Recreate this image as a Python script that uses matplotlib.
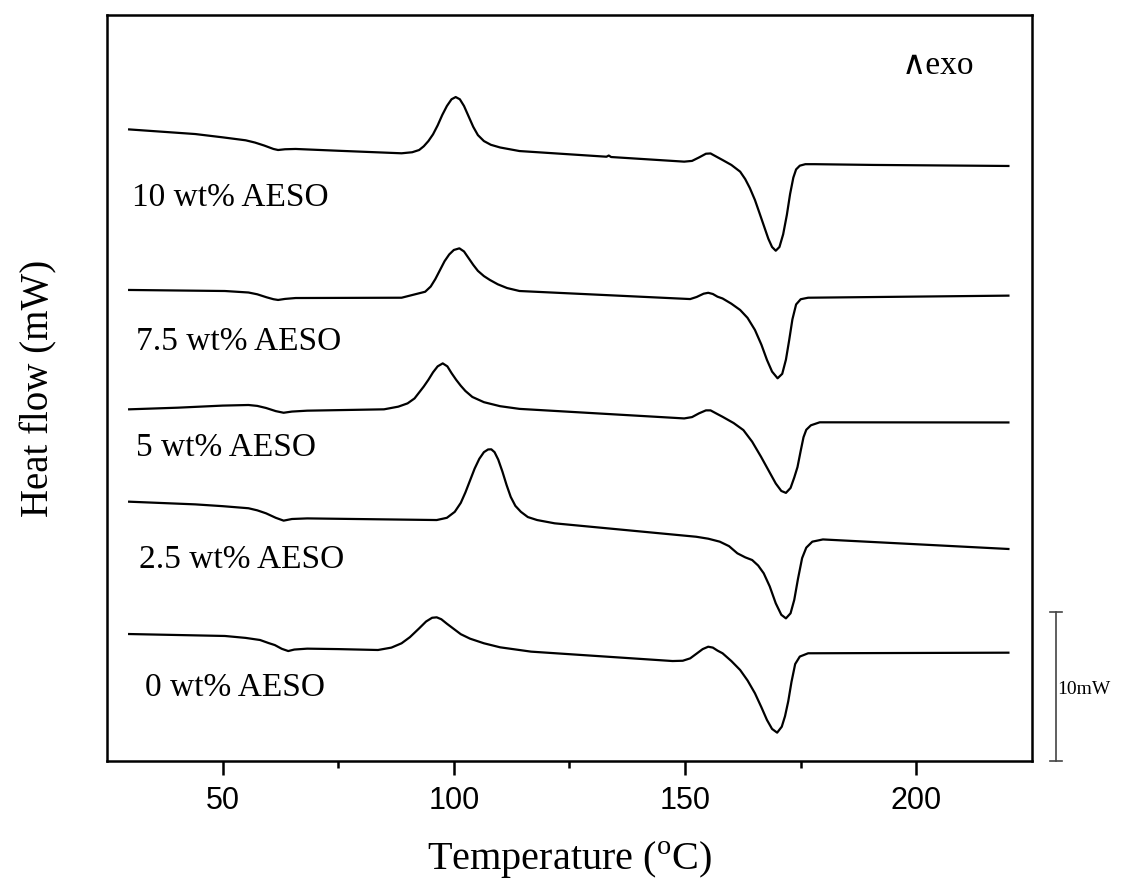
import matplotlib
matplotlib.use("Agg")
import matplotlib.pyplot as plt

# ---- data (Temperature in °C, heat flow in mW, curves offset vertically) ----
t_10 = [29.8, 44.1, 50.0, 55.0, 57.0, 59.0, 61.0, 62.0, 63.5, 65.8, 75.0, 88.7, 91.0, 92.5,
        93.5, 94.5, 95.5, 96.5, 97.5, 98.5, 99.5, 100.4, 101.3, 102.2, 103.2, 104.2, 105.2,
        106.5, 108.0, 110.0, 114.2, 133.0, 133.5, 134.0, 149.8, 151.5, 153.0, 154.5, 155.5,
        156.5, 158.1, 160.0, 161.9, 163.0, 164.0, 165.1, 166.0, 167.0, 168.0, 168.8, 169.6,
        170.4, 171.2, 172.0, 172.7, 173.4, 174.0, 174.8, 176.0, 178.0, 190.6, 219.9]
h_10 = [42.33, 42.02, 41.80, 41.60, 41.45, 41.25, 41.02, 40.95, 41.00, 41.02, 40.90, 40.73, 40.80, 40.95,
        41.20, 41.55, 42.00, 42.60, 43.30, 43.90, 44.35, 44.50, 44.35, 43.90, 43.20, 42.50, 41.95,
        41.55, 41.30, 41.12, 40.88, 40.50, 40.58, 40.48, 40.17, 40.22, 40.45, 40.70, 40.72,
        40.55, 40.28, 39.95, 39.50, 39.00, 38.40, 37.60, 36.80, 35.90, 35.00, 34.45, 34.20,
        34.45, 35.30, 36.60, 38.00, 39.10, 39.65, 39.90, 40.00, 40.00, 39.95, 39.88]

t_75 = [29.8, 50.5, 55.6, 57.5, 59.5, 61.0, 62.0, 63.5, 65.8, 88.7, 93.8, 95.0, 96.0, 97.0,
        98.0, 99.0, 100.0, 101.2, 102.2, 103.2, 104.2, 105.2, 106.5, 107.8, 109.5, 111.5,
        114.2, 151.1, 152.5, 154.0, 155.0, 156.0, 157.0, 158.1, 160.0, 161.9, 163.5, 165.1,
        166.5, 167.7, 168.8, 170.0, 171.0, 171.8, 172.5, 173.2, 174.0, 175.0, 176.6, 219.9]
h_75 = [31.57, 31.50, 31.40, 31.28, 31.08, 30.95, 30.90, 30.97, 31.03, 31.05, 31.45, 31.80, 32.30, 32.90,
        33.50, 33.95, 34.25, 34.36, 34.15, 33.70, 33.25, 32.85, 32.50, 32.24, 31.95, 31.70,
        31.50, 30.96, 31.10, 31.32, 31.38, 31.30, 31.12, 31.00, 30.65, 30.23, 29.70, 28.89,
        27.90, 26.88, 26.10, 25.65, 25.95, 26.90, 28.20, 29.60, 30.60, 30.95, 31.05, 31.19]

t_5 = [29.8, 40.3, 50.0, 55.6, 57.5, 59.4, 61.5, 63.2, 65.0, 68.3, 84.9, 88.0, 90.0, 91.5,
       92.5, 93.5, 94.5, 95.5, 96.5, 97.6, 98.6, 99.5, 100.5, 101.5, 102.5, 104.0, 106.5,
       110.0, 114.2, 149.8, 151.5, 153.0, 154.5, 155.5, 157.0, 158.1, 160.5, 162.6, 164.5,
       166.4, 168.0, 169.6, 170.8, 171.8, 172.8, 173.6, 174.3, 175.0, 175.6, 176.2, 177.2,
       179.1, 219.9]
h_5 = [23.57, 23.68, 23.82, 23.86, 23.80, 23.66, 23.45, 23.34, 23.42, 23.48, 23.57, 23.75, 23.97, 24.30,
       24.70, 25.10, 25.55, 26.05, 26.45, 26.65, 26.45, 26.00, 25.55, 25.15, 24.80, 24.40, 24.05,
       23.78, 23.60, 22.96, 23.05, 23.30, 23.50, 23.50, 23.25, 23.07, 22.65, 22.18, 21.40,
       20.40, 19.50, 18.60, 18.10, 17.97, 18.30, 19.00, 19.70, 20.80, 21.70, 22.20, 22.50,
       22.70, 22.69]

t_25 = [29.8, 44.1, 50.0, 55.6, 57.5, 59.4, 61.5, 63.2, 65.0, 68.3, 96.3, 98.5, 100.2, 101.5,
        102.5, 103.5, 104.5, 105.5, 106.5, 107.4, 108.1, 108.8, 109.6, 110.5, 111.4, 112.3,
        113.3, 114.5, 116.0, 118.0, 121.8, 152.4, 155.0, 157.5, 159.5, 161.3, 163.0, 164.5,
        165.8, 167.0, 168.3, 169.6, 170.8, 171.8, 172.8, 173.6, 174.4, 175.3, 176.2, 177.5,
        179.8, 219.9]
h_25 = [17.38, 17.20, 17.08, 16.94, 16.80, 16.60, 16.30, 16.11, 16.22, 16.26, 16.15, 16.30, 16.70, 17.30,
        18.00, 18.80, 19.60, 20.25, 20.70, 20.88, 20.89, 20.70, 20.20, 19.40, 18.50, 17.70,
        17.10, 16.70, 16.35, 16.15, 15.93, 15.03, 14.90, 14.70, 14.40, 13.92, 13.65, 13.47,
        13.10, 12.58, 11.70, 10.57, 9.80, 9.56, 9.90, 10.80, 12.20, 13.60, 14.30, 14.70,
        14.85, 14.21]

t_0 = [29.8, 50.5, 55.0, 58.1, 60.0, 61.3, 62.8, 64.2, 65.5, 68.3, 75.0, 83.6, 86.5, 88.7,
       90.5, 92.5, 94.0, 95.3, 96.3, 97.3, 98.5, 100.0, 101.5, 103.5, 106.5, 110.0, 116.7,
       147.3, 149.5, 151.1, 152.5, 153.8, 155.0, 156.0, 157.0, 158.1, 160.0, 161.9, 163.5,
       165.1, 166.5, 167.7, 168.8, 169.9, 170.9, 171.6, 172.3, 173.0, 173.8, 174.8, 176.6,
       219.9]
h_0 = [8.51, 8.38, 8.25, 8.11, 7.90, 7.77, 7.52, 7.37, 7.47, 7.53, 7.50, 7.44, 7.60, 7.89,
       8.30, 8.89, 9.35, 9.60, 9.63, 9.50, 9.20, 8.85, 8.50, 8.20, 7.89, 7.62, 7.33,
       6.70, 6.72, 6.88, 7.20, 7.50, 7.66, 7.60, 7.40, 7.22, 6.70, 6.10, 5.40,
       4.54, 3.60, 2.75, 2.15, 1.90, 2.30, 3.00, 4.00, 5.30, 6.50, 7.00, 7.22,
       7.26]

series_labels = ["10 wt% AESO", "7.5 wt% AESO", "5 wt% AESO", "2.5 wt% AESO", "0 wt% AESO"]
x_ticks = [50, 100, 150, 200]
x_minor = [75, 125, 175]

plt.rcParams['mathtext.fontset'] = 'custom'
plt.rcParams['mathtext.rm'] = 'Liberation Serif'
SERIF = ['Liberation Serif', 'DejaVu Serif']

fig = plt.figure(figsize=(11.21, 8.81), dpi=100)
ax = fig.add_axes([0.0954, 0.1362, 0.9206 - 0.0954, 0.983 - 0.1362])

curves = [(t_10, h_10), (t_75, h_75), (t_5, h_5), (t_25, h_25), (t_0, h_0)]
for t, h in curves:
    ax.plot(t, h, color='black', lw=1.6, solid_joinstyle='round', antialiased=True)

ax.set_xlim(25, 225)
ax.set_ylim(0, 50)
ax.set_xticks(x_ticks)
ax.set_xticks(x_minor, minor=True)
ax.set_yticks([])
ax.tick_params(axis='x', which='major', direction='out', length=10, width=1.8, pad=8,
               labelsize=22)
ax.tick_params(axis='x', which='minor', direction='out', length=5, width=1.8)
for lab in ax.get_xticklabels():
    lab.set_family('Liberation Sans')
for sp in ax.spines.values():
    sp.set_linewidth(1.8)

ax.set_xlabel('Temperature ($^{\\rm o}$C)', family=SERIF, fontsize=29, labelpad=16)
ax.set_ylabel('Heat flow (mW)', family=SERIF, fontsize=28, labelpad=36)

label_pos = [(30.4, 37.73), (31.3, 28.08), (31.3, 20.98), (31.9, 13.47), (33.2, 4.90)]
for (x, y), s in zip(label_pos, series_labels):
    ax.text(x, y, s, family=SERIF, fontsize=24, ha='left', va='center')

ax.text(196.9, 46.6, '\u2227exo', family=SERIF, fontsize=24, ha='left', va='center')

# scale bar 10 mW
bx = 230.2
ax.plot([bx, bx], [0, 10], color='#444444', lw=1.2, clip_on=False)
ax.plot([bx - 1.3, bx + 1.3], [0, 0], color='#444444', lw=1.2, clip_on=False)
ax.plot([bx - 1.3, bx + 1.3], [10, 10], color='#444444', lw=1.2, clip_on=False)
ax.text(bx + 0.2, 4.76, '10mW', family=SERIF, fontsize=14, ha='left', va='center',
        clip_on=False)

fig.savefig('out.png', dpi=100)
